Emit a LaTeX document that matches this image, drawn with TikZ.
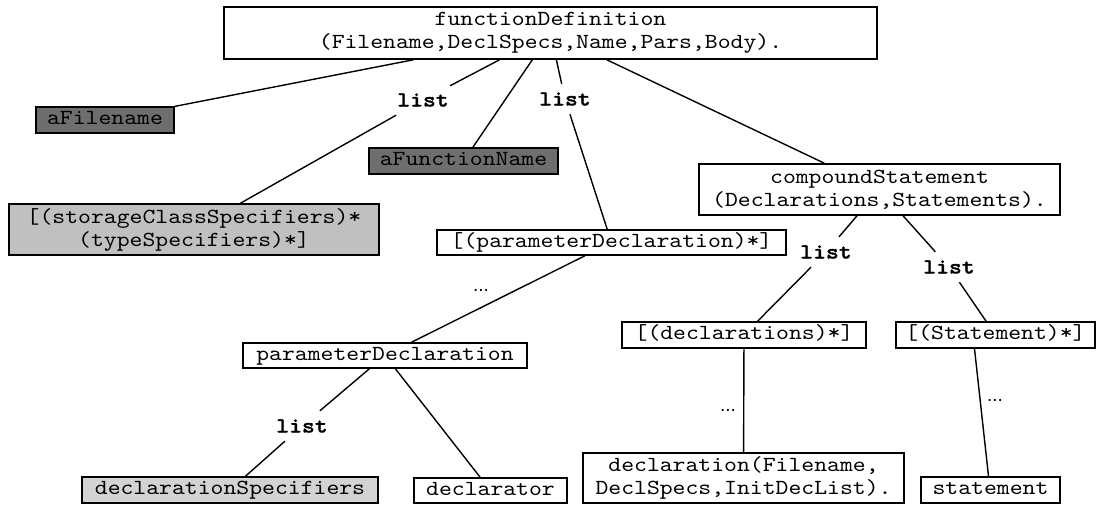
\documentclass[tikz,border=0pt]{standalone}
\usepackage{fontspec}
\setsansfont{Liberation Sans}
% typewriter face with serifs, widened to a 0.6em advance
\newfontfamily\typew[Extension=.otf, FakeStretch=1.14,
  UprightFont=lmmono10-regular, BoldFont=lmmonolt10-bold,
  BoldFeatures={FakeBold=1.2}]{lmmono10-regular}
\usetikzlibrary{calc}
\definecolor{darkbox}{HTML}{6E6E6E}
\definecolor{midbox}{HTML}{C0C0C0}
\definecolor{lightbox}{HTML}{D3D3D3}
\begin{document}
\begin{tikzpicture}[x=1pt,y=-1pt,
  box/.style={draw=black, line width=1.6pt, inner sep=0pt, align=center,
    font=\typew\fontsize{21.5}{23}\selectfont},
  one/.style={text height=14pt, text depth=4.5pt},
  lbl/.style={inner sep=0pt, minimum width=54pt, minimum height=30pt,
    font=\typew\bfseries\fontsize{21.5}{23}\selectfont},
  dots/.style={inner sep=0pt, font=\sffamily\fontsize{19}{19}\selectfont},
  conn/.style={line width=1.4pt}]
\useasboundingbox (0,0) rectangle (1097,505);

% boxes
\node[box, minimum width=653pt, minimum height=52pt] (fd) at (550.5,33)
  {functionDefinition\\(Filename,DeclSpecs,Name,Pars,Body).};
\node[box, one, fill=darkbox, minimum width=138pt, minimum height=26pt] (afile) at (105,120) {aFilename};
\node[box, fill=midbox, minimum width=370pt, minimum height=51pt] (scs) at (194,229.5)
  {[(storageClassSpecifiers)*\\(typeSpecifiers)*]};
\node[box, one, fill=darkbox, minimum width=189pt, minimum height=26pt] (afun) at (463.5,161) {aFunctionName};
\node[box, one, minimum width=349pt, minimum height=25pt] (pdl) at (611.5,242.5) {[(parameterDeclaration)*]};
\node[box, minimum width=361pt, minimum height=51pt] (cs) at (879.5,189.5)
  {compoundStatement\\(Declarations,Statements).};
\node[box, one, minimum width=244pt, minimum height=26pt] (dcls) at (744,335) {[(declarations)*]};
\node[box, one, minimum width=199pt, minimum height=26pt] (stl) at (995.5,335) {[(Statement)*]};
\node[box, one, minimum width=284pt, minimum height=25pt] (pd) at (385,355.5) {parameterDeclaration};
\node[box, one, fill=lightbox, minimum width=296pt, minimum height=26pt] (dspec) at (230,490) {declarationSpecifiers};
\node[box, one, minimum width=153pt, minimum height=25pt] (dtor) at (490.5,490.5) {declarator};
\node[box, minimum width=321pt, minimum height=50pt] (decl) at (743.5,478)
  {declaration(Filename,\\DeclSpecs,InitDecList).};
\node[box, one, minimum width=139pt, minimum height=26pt] (stmt) at (990.5,490) {statement};

% list labels
\node[lbl] (l1) at (423,100) {list};
\node[lbl] (l2) at (565,99) {list};
\node[lbl] (l3) at (826,252) {list};
\node[lbl] (l4) at (949,267) {list};
\node[lbl] (l5) at (302,426) {list};

% ellipsis marks
\node[dots] (d1) at (481,290) {...};
\node[dots] (d2) at (728,410) {...};
\node[dots] (d3) at (995,400) {...};

% connectors
\draw[conn] (fd) -- (afile);
\draw[conn] (fd) -- (l1) -- (scs);
\draw[conn] (fd) -- (afun);
\draw[conn] (fd) -- (l2) -- (pdl);
\draw[conn] (fd) -- (cs);
\draw[conn] (pdl) -- (pd);
\draw[conn] (pd) -- (l5) -- (dspec);
\draw[conn] (pd) -- (dtor);
\draw[conn] (cs) -- (l3) -- (dcls);
\draw[conn] (cs) -- (l4) -- (stl);
\draw[conn] (dcls) -- (decl);
\draw[conn] ($(stl.south)+(-21,0)$) -- ($(stmt.north)+(-2,0)$);
\end{tikzpicture}
\end{document}
